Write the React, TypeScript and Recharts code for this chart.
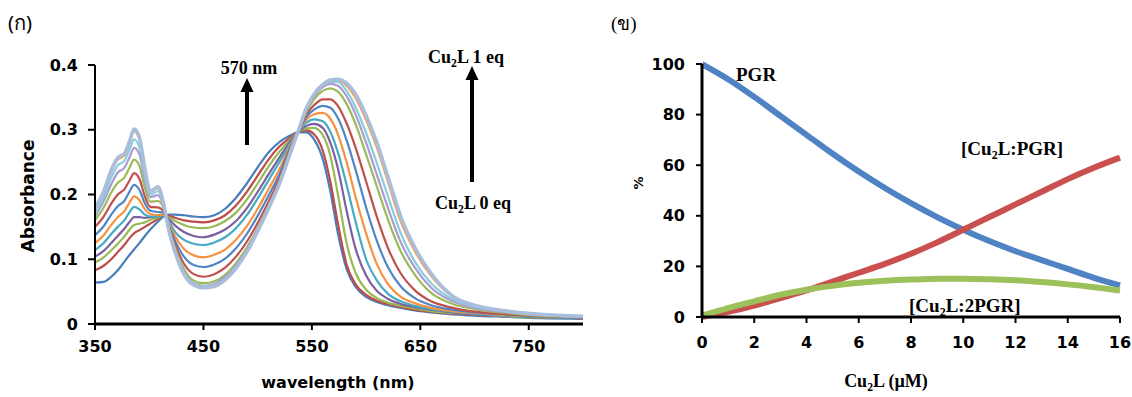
import React from "react";
import { LineChart, Line, XAxis, YAxis } from "recharts";

// (ก) absorption spectra, Cu2L 0 eq -> 1 eq
const WL = [350, 358, 365, 371, 377, 382, 386, 391, 396, 401, 408, 413, 418, 424, 432, 441, 450,
  460, 470, 480, 490, 500, 510, 520, 530, 537, 545, 552, 560, 567, 574, 582, 590, 600, 610, 620,
  632, 645, 660, 680, 700, 730, 760, 800];

const eq0 = [.064, .065, .073, .083, .096, .107, .115, .125, .136, .146, .158, .166, .169, .169, .168, .166, .165, .168, .178, .195, .217, .242, .265, .281, .291, .296, .296, .285, .255, .205, .14, .085, .058, .042, .034, .029, .025, .021, .018, .015, .013, .011, .009, .008];
const eq1 = [.083, .09, .1, .111, .122, .133, .14, .145, .15, .155, .162, .168, .167, .164, .16, .158, .157, .160, .168, .183, .204, .229, .254, .274, .288, .296, .299, .293, .268, .22, .155, .092, .062, .045, .036, .031, .026, .022, .019, .016, .014, .012, .01, .009];
const eq2 = [.095, .103, .114, .124, .135, .146, .153, .155, .157, .161, .164, .168, .165, .159, .153, .149, .148, .151, .159, .172, .192, .217, .243, .266, .285, .296, .302, .303, .292, .26, .2, .125, .08, .053, .04, .033, .028, .024, .02, .017, .015, .012, .01, .009];
const eq3 = [.104, .113, .125, .136, .147, .158, .165, .165, .164, .165, .166, .168, .162, .152, .142, .136, .134, .138, .146, .159, .179, .204, .231, .257, .282, .296, .306, .309, .303, .28, .24, .175, .118, .075, .051, .039, .031, .026, .022, .018, .015, .013, .011, .009];
const eq4 = [.114, .125, .139, .15, .16, .173, .181, .177, .169, .166, .166, .168, .158, .142, .13, .124, .122, .126, .134, .148, .168, .194, .222, .25, .279, .296, .311, .316, .313, .297, .265, .215, .16, .1, .067, .047, .035, .028, .023, .019, .016, .013, .011, .009];
const eq5 = [.125, .137, .153, .165, .174, .188, .197, .191, .177, .17, .168, .169, .155, .135, .116, .106, .103, .107, .115, .13, .151, .178, .208, .239, .276, .296, .316, .324, .326, .317, .293, .25, .198, .14, .092, .062, .042, .032, .025, .02, .017, .014, .012, .01];
const eq6 = [.137, .151, .169, .182, .19, .205, .215, .207, .186, .175, .173, .172, .152, .128, .104, .091, .088, .092, .101, .117, .139, .167, .198, .231, .273, .296, .32, .331, .337, .334, .318, .284, .24, .18, .128, .088, .058, .04, .029, .022, .018, .015, .012, .01];
const eq7 = [.15, .166, .186, .2, .208, .222, .233, .224, .197, .181, .18, .175, .15, .122, .093, .077, .073, .077, .087, .104, .127, .156, .189, .224, .27, .296, .324, .338, .347, .347, .337, .31, .274, .22, .165, .118, .078, .052, .035, .025, .019, .015, .012, .01];
const eq8 = [.16, .18, .203, .218, .226, .242, .254, .244, .21, .189, .19, .18, .148, .117, .085, .067, .063, .066, .076, .094, .118, .148, .183, .219, .268, .296, .328, .347, .36, .364, .359, .34, .31, .262, .212, .162, .112, .076, .048, .031, .023, .017, .013, .011];
const eq9 = [.166, .19, .216, .234, .241, .258, .272, .262, .222, .196, .199, .183, .147, .114, .081, .063, .059, .062, .073, .09, .115, .146, .181, .218, .266, .296, .331, .351, .366, .371, .368, .352, .325, .28, .23, .18, .126, .087, .056, .035, .025, .018, .014, .011];
const eq10 = [.17, .196, .226, .245, .252, .27, .285, .273, .23, .2, .205, .185, .146, .112, .079, .062, .058, .06, .07, .088, .113, .145, .18, .217, .265, .296, .332, .353, .368, .374, .374, .36, .336, .295, .248, .198, .14, .096, .063, .038, .027, .019, .014, .011];
const eq11 = [.176, .203, .235, .254, .26, .28, .298, .285, .238, .204, .21, .187, .145, .111, .078, .061, .057, .059, .069, .087, .112, .144, .179, .217, .264, .296, .333, .354, .369, .376, .377, .368, .35, .315, .272, .22, .158, .112, .074, .042, .029, .02, .015, .012];
const eq12 = [.178, .205, .238, .257, .263, .283, .301, .288, .24, .205, .212, .188, .145, .11, .077, .06, .056, .058, .068, .086, .111, .143, .178, .216, .263, .296, .334, .355, .37, .377, .378, .372, .356, .322, .28, .228, .166, .118, .078, .043, .029, .02, .015, .012];

const SPECTRA = [eq0, eq1, eq2, eq3, eq4, eq5, eq6, eq7, eq8, eq9, eq10, eq11, eq12];
const SPECTRA_COLORS = [
  "#4a7ebb", "#be4b48", "#98b954", "#7d60a0", "#46aac5", "#f69240",
  "#4f86c8", "#c0504d", "#9bbb59", "#ab9bd0", "#86cde0", "#f7a05a", "#a9bedd",
];
const WL_TICKS = [350, 450, 550, 650, 750];
const ABS_TICKS = [0, 0.1, 0.2, 0.3, 0.4];

// (ข) species distribution vs Cu2L
const CONC = [0, 1, 2, 3, 4, 5, 6, 7, 8, 9, 10, 11, 12, 13, 14, 15, 16];
const pgr = [100, 94, 87, 79.5, 72, 64.5, 57.5, 51, 45, 39.5, 34.5, 30, 26, 22.5, 19, 15.5, 12.5];
const cu2lPgr = [0, 2, 4.5, 7.5, 10.5, 14, 17.5, 21, 25, 29.5, 34.5, 39.5, 44.5, 49.5, 54.5, 59, 63];
const cu2l2Pgr = [0.5, 3.5, 6.2, 8.8, 10.8, 12.3, 13.5, 14.3, 14.8, 15.1, 15.1, 14.9, 14.5, 13.8, 12.9, 11.8, 10.5];
const CONC_TICKS = [0, 2, 4, 6, 8, 10, 12, 14, 16];
const PCT_TICKS = [0, 20, 40, 60, 80, 100];

const absRows = WL.map((wl, i) => {
  const row: Record<string, number> = { wl };
  SPECTRA.forEach((s, k) => { row[`c${k}`] = s[i]; });
  return row;
});

const distRows = CONC.map((c, i) => ({
  c, pgr: pgr[i], one: cu2lPgr[i], two: cu2l2Pgr[i],
}));

const tickFont = { fontFamily: "DejaVu Sans", fontWeight: 700, fontSize: 16, fill: "#000" };
const serifBold = { fontFamily: "Liberation Serif", fontWeight: 700, fill: "#000" };

function Cu2L({ x, y, rest, size = 18, anchor = "middle" }: any) {
  return (
    <text x={x} y={y} textAnchor={anchor} style={{ ...serifBold, fontSize: size }}>
      <tspan>Cu</tspan>
      <tspan fontSize={size * 0.65} dy={size * 0.22}>2</tspan>
      <tspan dy={-size * 0.22}>{rest}</tspan>
    </text>
  );
}

export default function App() {
  return (
    <div style={{ position: "absolute", left: 0, top: 0, width: 1132, height: 397, background: "#fff" }}>
      <div style={{ position: "absolute", left: 0, top: 0 }}>
        <LineChart width={600} height={397} data={absRows} margin={{ top: 65, right: 17, bottom: 43, left: 45 }}>
          <XAxis
            dataKey="wl" type="number" domain={[350, 800]} ticks={WL_TICKS} height={30}
            axisLine={{ stroke: "#000", strokeWidth: 3 }} tickLine={{ stroke: "#000", strokeWidth: 2 }}
            tickSize={6} tickMargin={11} tick={tickFont} allowDataOverflow
          />
          <YAxis
            type="number" domain={[0, 0.4]} ticks={ABS_TICKS} width={50}
            axisLine={{ stroke: "#000", strokeWidth: 2 }} tickLine={{ stroke: "#000", strokeWidth: 2 }}
            tickSize={7} tickMargin={10} tick={tickFont}
          />
          {SPECTRA.map((_, k) => (
            <Line
              key={k} dataKey={`c${k}`} type="monotone" dot={false} isAnimationActive={false}
              stroke={SPECTRA_COLORS[k]} strokeWidth={k === 12 ? 3.5 : 2.2}
            />
          ))}
        </LineChart>
      </div>

      <div style={{ position: "absolute", left: 600, top: 0 }}>
        <LineChart width={532} height={397} data={distRows} margin={{ top: 64, right: 12, bottom: 50, left: 52 }}>
          <XAxis
            dataKey="c" type="number" domain={[0, 16]} ticks={CONC_TICKS} height={30}
            axisLine={{ stroke: "#000", strokeWidth: 3 }} tickLine={{ stroke: "#000", strokeWidth: 2 }}
            tickSize={6} tickMargin={14} tick={tickFont}
          />
          <YAxis
            type="number" domain={[0, 100]} ticks={PCT_TICKS} width={50}
            axisLine={{ stroke: "#000", strokeWidth: 3 }} tickLine={{ stroke: "#000", strokeWidth: 2 }}
            tickSize={6} tickMargin={11} tick={tickFont}
          />
          <Line dataKey="pgr" type="monotone" dot={false} isAnimationActive={false} stroke="#4f83c3" strokeWidth={6} />
          <Line dataKey="one" type="monotone" dot={false} isAnimationActive={false} stroke="#c9504e" strokeWidth={6} />
          <Line dataKey="two" type="monotone" dot={false} isAnimationActive={false} stroke="#9cc05a" strokeWidth={6} />
        </LineChart>
      </div>

      {/* annotations */}
      <svg width={1132} height={397} style={{ position: "absolute", left: 0, top: 0, pointerEvents: "none" }}>
        <text x={8} y={30} style={{ fontFamily: "Noto Sans", fontSize: 20, fill: "#000" }}>(ก)</text>
        <text x={611} y={30} style={{ fontFamily: "Liberation Serif", fontSize: 19, fill: "#000" }}>(ข)</text>

        <text x={0} y={0} textAnchor="middle" dominantBaseline="central" transform="translate(28,196) rotate(-90)"
          style={{ ...tickFont, fontSize: 17 }}>Absorbance</text>
        <text x={338} y={388} textAnchor="middle" style={tickFont}>wavelength (nm)</text>

        <text x={249} y={74} textAnchor="middle" style={{ ...serifBold, fontSize: 18 }}>570 nm</text>
        <line x1={247} y1={145} x2={247} y2={90} stroke="#000" strokeWidth={4} />
        <polygon points="240.5,92 253.5,92 247,78" fill="#000" />

        <Cu2L x={466} y={63} rest="L 1 eq" />
        <line x1={472} y1={182} x2={472} y2={78} stroke="#000" strokeWidth={4} />
        <polygon points="465.5,80 478.5,80 472,66" fill="#000" />
        <Cu2L x={473} y={209} rest="L 0 eq" />

        <text x={0} y={0} textAnchor="middle" dominantBaseline="central" transform="translate(638,183) rotate(-90)"
          style={{ ...tickFont, fontSize: 13 }}>%</text>
        <text x={736} y={81} style={{ ...serifBold, fontSize: 19 }}>PGR</text>
        <text x={961} y={155} style={{ ...serifBold, fontSize: 19 }}>
          <tspan>[Cu</tspan><tspan fontSize={12} dy={4}>2</tspan><tspan dy={-4}>L:PGR]</tspan>
        </text>
        <text x={909} y={312} style={{ ...serifBold, fontSize: 19 }}>
          <tspan>[Cu</tspan><tspan fontSize={12} dy={4}>2</tspan><tspan dy={-4}>L:2PGR]</tspan>
        </text>
        <Cu2L x={886} y={387} rest="L (µM)" size={18} />
      </svg>
    </div>
  );
}
